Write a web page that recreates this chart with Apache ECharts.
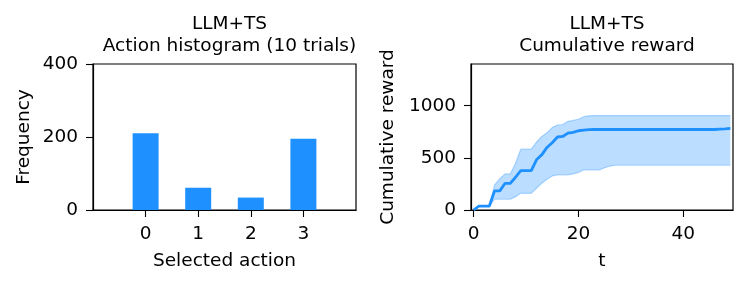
<!DOCTYPE html>
<html>
<head>
<meta charset="utf-8">
<script src="https://cdn.jsdelivr.net/npm/echarts@6/dist/echarts.min.js"></script>
<style>
html,body{margin:0;padding:0;background:#fff;}
#c{width:748px;height:286px;}
</style>
</head>
<body>
<div id="c"></div>
<script>
// Histogram data
const actions = [0, 1, 2, 3];
const frequency = [210, 61, 34, 195];
const histTicks = [0, 1, 2, 3];
const histYTicks = [0, 200, 400];

// Cumulative reward data (t = 0..49)
const tSteps = [0,1,2,3,4,5,6,7,8,9,10,11,12,13,14,15,16,17,18,19,20,21,22,23,24,25,26,27,28,29,30,31,32,33,34,35,36,37,38,39,40,41,42,43,44,45,46,47,48,49];
const meanReward = [0,38,38,38,183,183,256,256,314,378,378,378,481,529,600,645,700,705,737,744,760,766,770,772,772,772,772,772,772,772,772,772,772,772,772,772,772,772,772,772,772,772,772,772,772,772,772,775,778,782];
const upperReward = [0,40,42,42,240,300,346,346,449,583,583,583,651,705,740,790,815,820,850,859,870,895,903,905,905,905,905,905,905,905,905,905,905,905,905,905,905,905,905,905,905,905,905,905,905,905,905,905,905,905];
const lowerReward = [0,36,34,34,103,103,103,103,128,160,160,160,208,256,295,327,337,337,337,346,360,385,385,385,385,405,420,429,429,429,429,429,429,429,429,429,429,429,429,429,429,429,429,429,429,429,429,429,429,429];
const rewardXTicks = [0, 20, 40];
const rewardYTicks = [0, 500, 1000];

const FONT = 'DejaVu Sans';
const FS = 18.5;
const BLUE = '#1E90FF';
const BAND = 'rgba(30,144,255,0.3)';
const EDGE = 'rgba(30,144,255,0.32)';

const axisCommon = {
  axisLine: {show: true, onZero: false, lineStyle: {color: '#000', width: 1.2}},
  splitLine: {show: false},
  nameTextStyle: {fontFamily: FONT, fontSize: FS, color: '#000'}
};
const tick = (vals) => ({show: true, length: 7, customValues: vals, lineStyle: {color: '#000', width: 1.1}});
const lbl = (vals, margin) => ({customValues: vals, margin: margin, fontFamily: FONT, fontSize: FS, color: '#000', formatter: (v) => String(v)});

const chart = echarts.init(document.getElementById('c'), null, {renderer: 'canvas'});
chart.setOption({
  animation: false,
  backgroundColor: '#fff',
  title: [
    {text: 'LLM+TS\nAction histogram (10 trials)', left: 224.5, top: 8, textAlign: 'center',
     textStyle: {fontFamily: FONT, fontSize: FS, fontWeight: 'normal', color: '#000', lineHeight: 22}},
    {text: 'LLM+TS\nCumulative reward', left: 602, top: 8, textAlign: 'center',
     textStyle: {fontFamily: FONT, fontSize: FS, fontWeight: 'normal', color: '#000', lineHeight: 22}}
  ],
  grid: [
    {left: 93, right: 392, top: 64, bottom: 76, show: true, borderColor: '#000', borderWidth: 1.2, backgroundColor: 'transparent'},
    {left: 471, right: 15, top: 64, bottom: 76, show: true, borderColor: '#000', borderWidth: 1.2, backgroundColor: 'transparent'}
  ],
  xAxis: [
    Object.assign({}, axisCommon, {
      type: 'value', gridIndex: 0, min: -1, max: 4,
      name: 'Selected action', nameLocation: 'middle', nameGap: 42,
      axisTick: tick(histTicks), axisLabel: lbl(histTicks, 15)
    }),
    Object.assign({}, axisCommon, {
      type: 'value', gridIndex: 1, min: -0.5, max: 49.5,
      name: 't', nameLocation: 'middle', nameGap: 42,
      axisTick: tick(rewardXTicks), axisLabel: lbl(rewardXTicks, 15)
    })
  ],
  yAxis: [
    Object.assign({}, axisCommon, {
      type: 'value', gridIndex: 0, min: 0, max: 400,
      name: 'Frequency', nameLocation: 'middle', nameGap: 59,
      axisTick: tick(histYTicks), axisLabel: lbl(histYTicks, 15)
    }),
    Object.assign({}, axisCommon, {
      type: 'value', gridIndex: 1, min: 0, max: 1400,
      name: 'Cumulative reward', nameLocation: 'middle', nameGap: 73,
      axisTick: tick(rewardYTicks), axisLabel: lbl(rewardYTicks, 15)
    })
  ],
  series: [
    {
      type: 'bar', xAxisIndex: 0, yAxisIndex: 0, barWidth: 26,
      itemStyle: {color: BLUE},
      data: actions.map((a, i) => [a, frequency[i]])
    },
    {
      type: 'custom', xAxisIndex: 1, yAxisIndex: 1, z: 1,
      data: [[0, 0]],
      renderItem: function (params, api) {
        const pts = [];
        for (let i = 0; i < tSteps.length; i++) pts.push(api.coord([tSteps[i], upperReward[i]]));
        for (let i = tSteps.length - 1; i >= 0; i--) pts.push(api.coord([tSteps[i], lowerReward[i]]));
        return {type: 'polygon', shape: {points: pts}, style: {fill: BAND, stroke: null}};
      }
    },
    {
      type: 'line', xAxisIndex: 1, yAxisIndex: 1, symbol: 'none', z: 2,
      lineStyle: {color: EDGE, width: 1.2},
      data: tSteps.map((t, i) => [t, upperReward[i]])
    },
    {
      type: 'line', xAxisIndex: 1, yAxisIndex: 1, symbol: 'none', z: 2,
      lineStyle: {color: EDGE, width: 1.2},
      data: tSteps.map((t, i) => [t, lowerReward[i]])
    },
    {
      type: 'line', xAxisIndex: 1, yAxisIndex: 1, symbol: 'none', z: 3,
      lineStyle: {color: BLUE, width: 2.8},
      data: tSteps.map((t, i) => [t, meanReward[i]])
    }
  ]
});
</script>
</body>
</html>
